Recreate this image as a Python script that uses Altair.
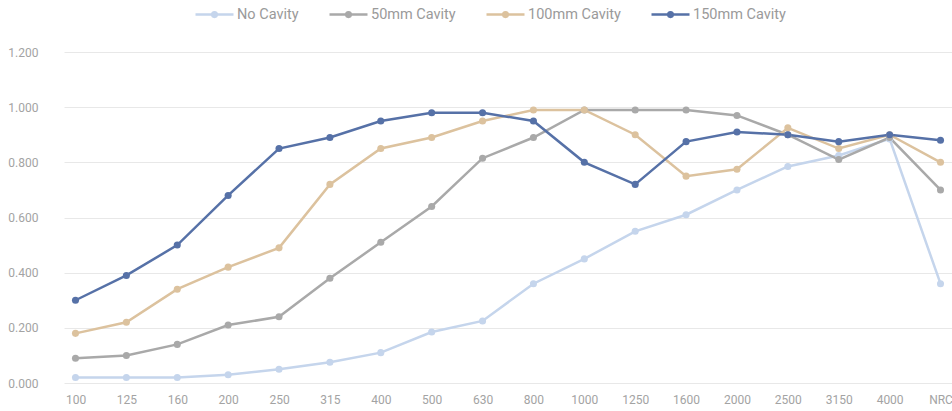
import altair as alt
import pandas as pd

# Octave-band centre frequencies plus the NRC summary column
bands = ["100", "125", "160", "200", "250", "315", "400", "500", "630", "800",
         "1000", "1250", "1600", "2000", "2500", "3150", "4000", "NRC"]

series_names = ["No Cavity", "50mm Cavity", "100mm Cavity", "150mm Cavity"]
series_colors = ["#c5d5ec", "#a9a9a9", "#dcc29e", "#5671a7"]

no_cavity = [0.02, 0.02, 0.02, 0.03, 0.05, 0.075, 0.11, 0.185, 0.225, 0.36,
             0.45, 0.55, 0.61, 0.70, 0.785, 0.825, 0.885, 0.36]
cavity_50 = [0.09, 0.10, 0.14, 0.21, 0.24, 0.38, 0.51, 0.64, 0.815, 0.89,
             0.99, 0.99, 0.99, 0.97, 0.90, 0.81, 0.89, 0.70]
cavity_100 = [0.18, 0.22, 0.34, 0.42, 0.49, 0.72, 0.85, 0.89, 0.95, 0.99,
              0.99, 0.90, 0.75, 0.775, 0.925, 0.85, 0.90, 0.80]
cavity_150 = [0.30, 0.39, 0.50, 0.68, 0.85, 0.89, 0.95, 0.98, 0.98, 0.95,
              0.80, 0.72, 0.875, 0.91, 0.90, 0.875, 0.90, 0.88]

all_values = [no_cavity, cavity_50, cavity_100, cavity_150]

rows = []
for order, (name, vals) in enumerate(zip(series_names, all_values)):
    for band, v in zip(bands, vals):
        rows.append({"band": band, "value": v, "series": name, "order": order})
df = pd.DataFrame(rows)

# legend glyph: a short line with a filled-looking dot in the middle
def ring(r):
    return f"M{-r},0a{r},{r} 0 1,0 {2*r},0a{r},{r} 0 1,0 {-2*r},0"

legend_symbol = "M-1,0L1,0" + ring(0.03) + ring(0.08) + ring(0.12)

label_font = "Roboto"
grey_text = "#a3a3a3"

color = alt.Color(
    "series:N",
    scale=alt.Scale(domain=series_names, range=series_colors),
    sort=series_names,
    legend=alt.Legend(
        title=None,
        orient="none",
        direction="horizontal",
        legendX=130,
        legendY=-58,
        symbolType=legend_symbol,
        symbolSize=1444,
        symbolStrokeWidth=2.5,
        labelFont=label_font,
        labelFontSize=14.5,
        labelColor="#9a9a9a",
        labelOffset=2,
        columnPadding=25,
    ),
)

x = alt.X(
    "band:N",
    sort=bands,
    scale=alt.Scale(type="point", padding=0.226),
    axis=alt.Axis(
        title=None,
        labelAngle=0,
        labelFont=label_font,
        labelFontSize=12,
        labelColor=grey_text,
        labelPadding=11,
        ticks=False,
        domain=False,
        grid=False,
    ),
)

y = alt.Y(
    "value:Q",
    scale=alt.Scale(domain=[0, 1.2], nice=False),
    axis=alt.Axis(
        title=None,
        values=[0, 0.2, 0.4, 0.6, 0.8, 1.0, 1.2],
        format=".3f",
        labelFont=label_font,
        labelFontSize=12,
        labelColor=grey_text,
        labelPadding=26,
        ticks=False,
        domain=False,
        gridColor="#e8e8e8",
        gridWidth=1,
    ),
)

base = alt.Chart(df).encode(x=x, y=y, color=color, order="order:Q",
                            detail="series:N")

lines = base.mark_line(strokeWidth=2.5)
points = base.mark_circle(size=50, opacity=1)

chart = (
    alt.layer(lines, points)
    .properties(
        width=888,
        height=331,
        autosize=alt.AutoSizeParams(type="none"),
        padding={"left": 64, "top": 52, "right": 0, "bottom": 28},
    )
    .configure_view(stroke=None)
)

chart.save("out.html", embed_options={"renderer": "svg", "actions": False})
